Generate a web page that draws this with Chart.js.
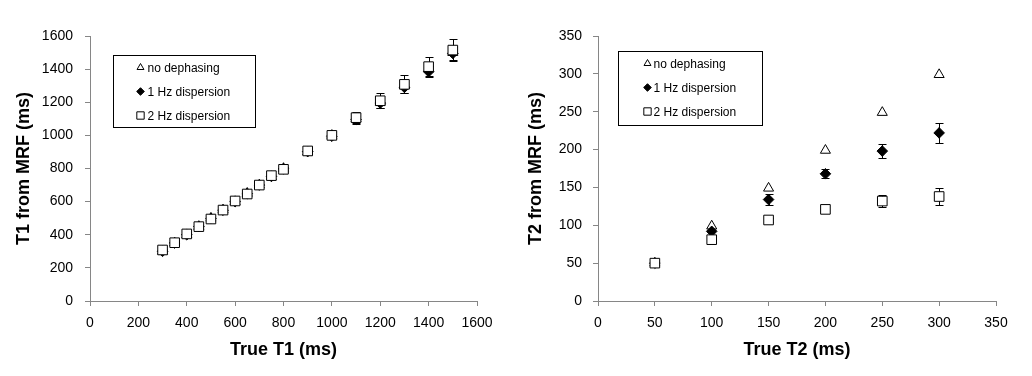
<!DOCTYPE html>
<html>
<head>
<meta charset="utf-8">
<script src="https://cdn.jsdelivr.net/npm/chart.js@4.4.1/dist/chart.umd.min.js"></script>
<style>
  html, body { margin: 0; padding: 0; background: #fff; }
  .wrap { display: flex; width: 1032px; height: 376px; }
  .box { position: relative; width: 516px; height: 376px; }
</style>
</head>
<body>
<div class="wrap">
  <div class="box"><canvas id="t1Chart"></canvas></div>
  <div class="box"><canvas id="t2Chart"></canvas></div>
</div>
<script>
// T1 phantom (ms)
const t1True = [300, 350, 400, 450, 500, 550, 600, 650, 700, 750, 800, 900, 1000, 1100, 1200, 1300, 1400, 1500];
const t1NoDephasing = [300, 350, 400, 450, 500, 550, 600, 650, 700, 750, 800, 900, 1000, 1100, 1200, 1300, 1400, 1500];
const t1Hz1 = [300, 350, 400, 450, 498, 548, 600, 648, 700, 752, 798, 902, 995, 1095, 1195, 1290, 1385, 1495];
const t1Hz1Err = [5, 5, 5, 5, 5, 6, 6, 6, 8, 8, 10, 10, 15, 20, 30, 35, 35, 38];
const t1Hz2 = [308, 352, 405, 449, 495, 549, 604, 646, 700, 757, 795, 906, 1000, 1107, 1209, 1308, 1415, 1515];
const t1Hz2Err = [8, 8, 8, 10, 10, 12, 12, 14, 15, 15, 15, 18, 20, 36, 44, 54, 56, 66];

// T2 phantom (ms)
const t2True = [50, 100, 150, 200, 250, 300];
const t2NoDephasing = [50, 99, 149, 199, 249, 299];
const t2Hz1 = [50, 92, 134, 168, 198, 222];
const t2Hz1Err = [3, 5, 7, 6, 9, 13];
const t2Hz2 = [50, 81, 107, 121, 132, 138];
const t2Hz2Err = [2, 2, 2, 5, 8, 11];

const seriesLabels = ['no dephasing', '1 Hz dispersion', '2 Hz dispersion'];

Chart.defaults.font.family = "Arial, 'Liberation Sans', sans-serif";
Chart.defaults.color = '#000';

function toPoints(xs, ys) {
    return xs.map((x, i) => ({x: x, y: ys[i]}));
}

// vertical error bars, drawn under the markers
const errorBars = {
    id: 'errorBars',
    beforeDatasetsDraw(chart) {
        const ctx = chart.ctx;
        const yScale = chart.scales.y;
        ctx.save();
        ctx.strokeStyle = '#000';
        ctx.lineWidth = 1;
        chart.data.datasets.forEach((ds, i) => {
            if (!ds.errors) return;
            const meta = chart.getDatasetMeta(i);
            meta.data.forEach((pt, j) => {
                const e = ds.errors[j];
                if (!e) return;
                const v = ds.data[j].y;
                const top = Math.round(yScale.getPixelForValue(v + e)) + 0.5;
                const bot = Math.round(yScale.getPixelForValue(v - e)) + 0.5;
                const x = Math.round(pt.x) + 0.5;
                ctx.beginPath();
                ctx.moveTo(x, top); ctx.lineTo(x, bot);
                ctx.moveTo(x - 4, top); ctx.lineTo(x + 4, top);
                ctx.moveTo(x - 4, bot); ctx.lineTo(x + 4, bot);
                ctx.stroke();
            });
        });
        ctx.restore();
    }
};

// boxed legend sitting inside the plot area
const boxLegend = {
    id: 'boxLegend',
    afterDraw(chart, args, opts) {
        const ctx = chart.ctx;
        const area = chart.chartArea;
        const bx = Math.round(area.left + opts.x) + 0.5;
        const by = Math.round(area.top + opts.y) + 0.5;
        ctx.save();
        ctx.fillStyle = '#fff';
        ctx.fillRect(bx, by, opts.w, opts.h);
        ctx.strokeStyle = '#000';
        ctx.lineWidth = 1;
        ctx.strokeRect(bx, by, opts.w, opts.h);
        ctx.font = "12px Arial, 'Liberation Sans', sans-serif";
        ctx.textBaseline = 'middle';
        opts.items.forEach((item, i) => {
            const y = by + opts.rows[i];
            ctx.fillStyle = item.fill;
            ctx.strokeStyle = '#000';
            ctx.lineWidth = 1;
            Chart.helpers.drawPoint(ctx, {pointStyle: item.style, radius: item.radius, rotation: 0, borderWidth: 1}, bx + opts.markerX, y);
            ctx.fillStyle = '#000';
            ctx.fillText(item.label, bx + opts.textX, y + 1);
        });
        ctx.restore();
    }
};

function makeDatasets(xs, none, hz1, hz1Err, hz2, hz2Err) {
    return [
        {
            label: seriesLabels[0],
            data: toPoints(xs, none),
            pointStyle: 'triangle',
            pointRadius: 5.8,
            backgroundColor: '#fff',
            borderColor: '#000',
            borderWidth: 1,
            order: 3
        },
        {
            label: seriesLabels[1],
            data: toPoints(xs, hz1),
            errors: hz1Err,
            pointStyle: 'rectRot',
            pointRadius: 5.3,
            backgroundColor: '#000',
            borderColor: '#000',
            borderWidth: 1,
            order: 2
        },
        {
            label: seriesLabels[2],
            data: toPoints(xs, hz2),
            errors: hz2Err,
            pointStyle: 'rect',
            pointRadius: 6.8,
            backgroundColor: '#fff',
            borderColor: '#000',
            borderWidth: 1,
            order: 1
        }
    ];
}

function makeScales(max, step, xTitle, yTitle, yWidth, yTitlePad, yTickPad) {
    const axisGray = '#868686';
    return {
        x: {
            type: 'linear',
            min: 0,
            max: max,
            ticks: {stepSize: step, padding: 9, font: {size: 14}, maxRotation: 0, callback: v => String(v)},
            grid: {drawOnChartArea: false, color: axisGray, tickLength: 5},
            border: {color: axisGray},
            title: {display: true, text: xTitle, font: {size: 18, weight: 'bold'}, padding: {top: 0, bottom: 15}},
            afterFit: s => { s.height = 75; }
        },
        y: {
            type: 'linear',
            min: 0,
            max: max,
            ticks: {stepSize: step, padding: yTickPad, font: {size: 14}, callback: v => String(v)},
            grid: {drawOnChartArea: false, color: axisGray, tickLength: 5},
            border: {color: axisGray},
            title: {display: true, text: yTitle, font: {size: 18, weight: 'bold'}, padding: {top: yTitlePad, bottom: 0}},
            afterFit: s => { s.width = yWidth; }
        }
    };
}

function legendItems() {
    return [
        {label: seriesLabels[0], style: 'triangle', radius: 4, fill: '#fff'},
        {label: seriesLabels[1], style: 'rectRot', radius: 3.8, fill: '#000'},
        {label: seriesLabels[2], style: 'rect', radius: 5.2, fill: '#fff'}
    ];
}

new Chart(document.getElementById('t1Chart'), {
    type: 'scatter',
    data: {datasets: makeDatasets(t1True, t1NoDephasing, t1Hz1, t1Hz1Err, t1Hz2, t1Hz2Err)},
    options: {
        responsive: true,
        maintainAspectRatio: false,
        animation: false,
        layout: {padding: {left: 0, top: 36, right: 39, bottom: 0}},
        scales: makeScales(1600, 200, 'True T1 (ms)', 'T1 from MRF (ms)', 90, 13, 12),
        plugins: {
            legend: {display: false},
            tooltip: {enabled: false},
            boxLegend: {x: 23, y: 19, w: 142, h: 72, markerX: 27, textX: 34, rows: [12, 36, 60], items: legendItems()}
        }
    },
    plugins: [errorBars, boxLegend]
});

new Chart(document.getElementById('t2Chart'), {
    type: 'scatter',
    data: {datasets: makeDatasets(t2True, t2NoDephasing, t2Hz1, t2Hz1Err, t2Hz2, t2Hz2Err)},
    options: {
        responsive: true,
        maintainAspectRatio: false,
        animation: false,
        layout: {padding: {left: 0, top: 36, right: 36, bottom: 0}},
        scales: makeScales(350, 50, 'True T2 (ms)', 'T2 from MRF (ms)', 82, 9, 11),
        plugins: {
            legend: {display: false},
            tooltip: {enabled: false},
            boxLegend: {x: 20, y: 15, w: 144, h: 74, markerX: 29, textX: 35, rows: [12, 36, 60], items: legendItems()}
        }
    },
    plugins: [errorBars, boxLegend]
});
</script>
</body>
</html>
